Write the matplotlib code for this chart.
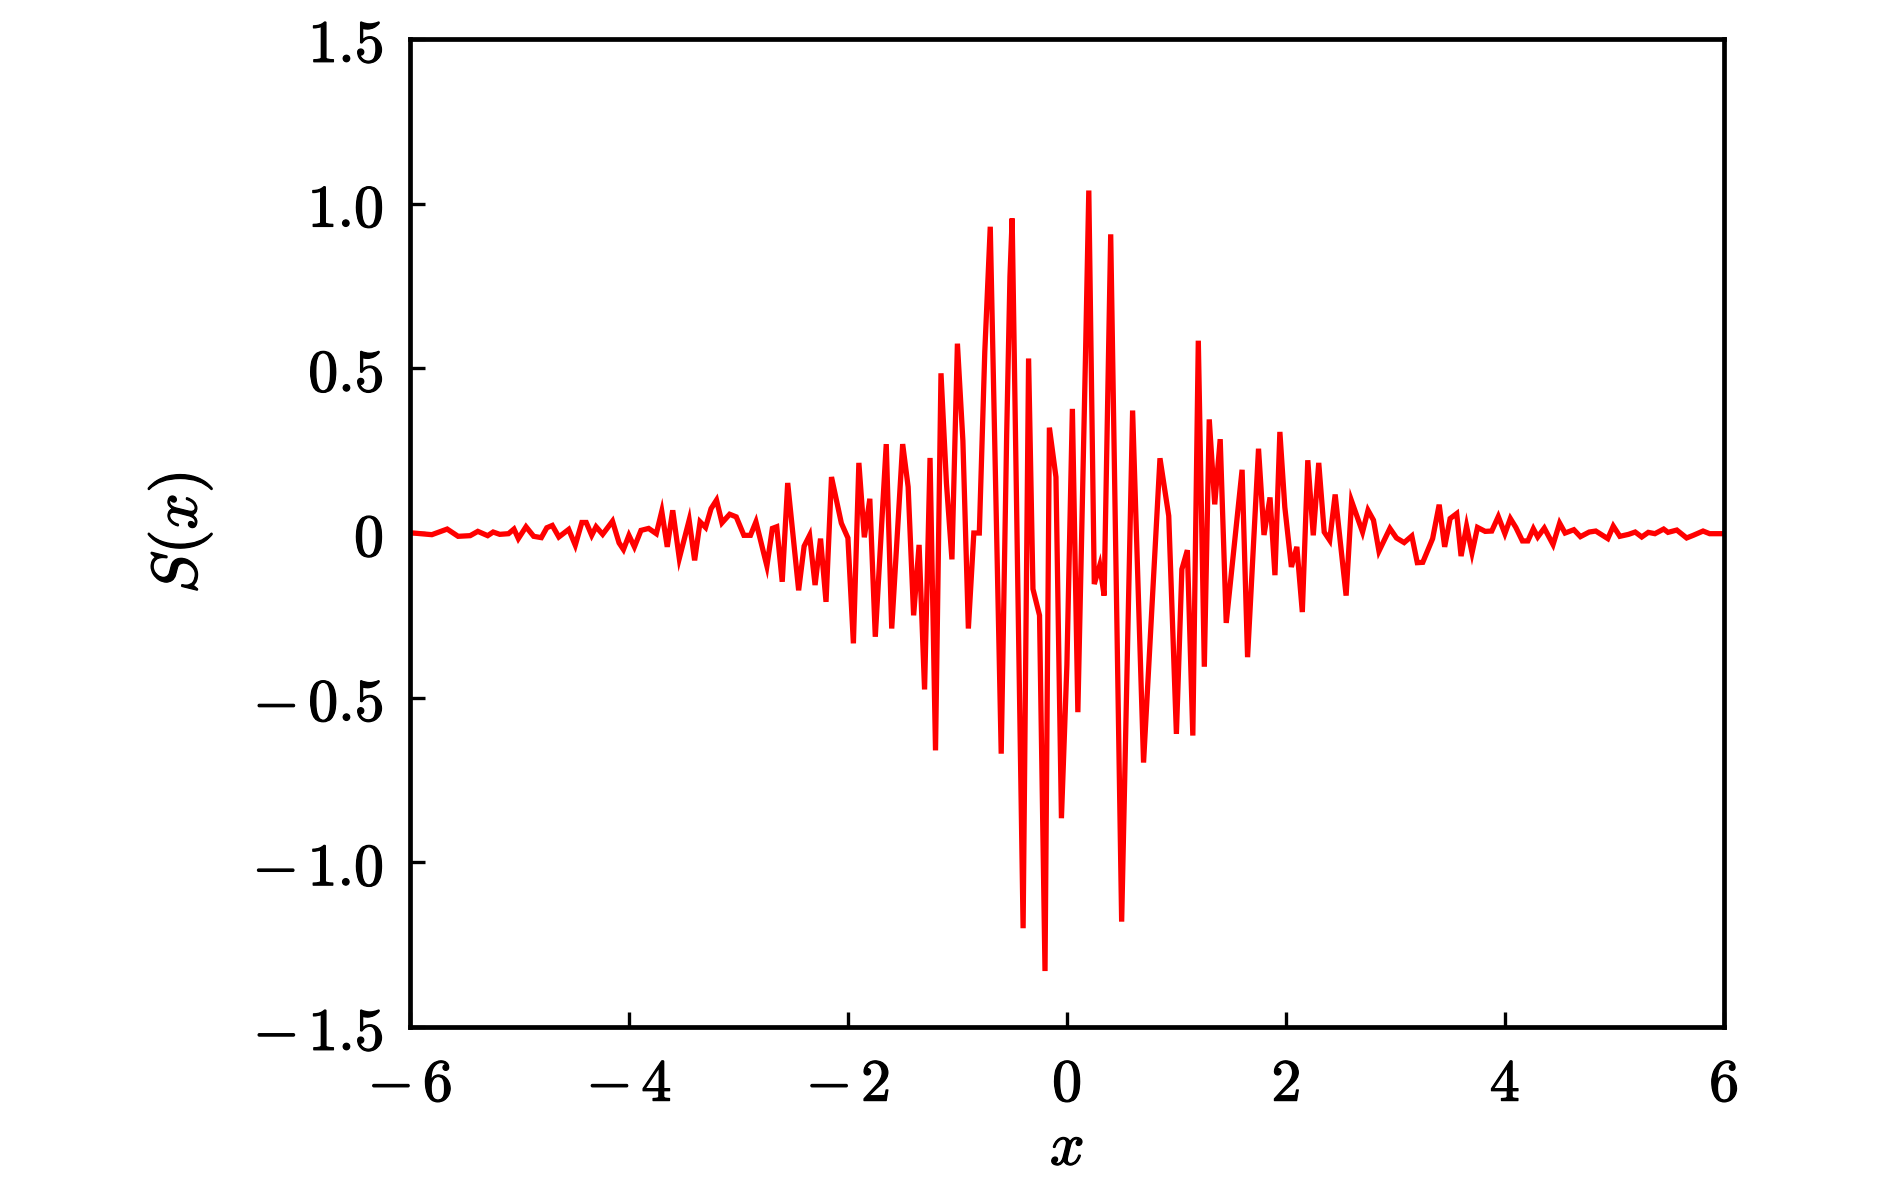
import matplotlib
matplotlib.use("Agg")
import matplotlib.pyplot as plt
import matplotlib.patheffects as pe

# ---- data (vertices of the curve) ----
x_vals = [
    -6.00, -5.97, -5.80, -5.66, -5.56, -5.45, -5.38, -5.29, -5.24, -5.18,
    -5.10, -5.05, -5.01, -4.94, -4.87, -4.80, -4.75, -4.70, -4.64, -4.55,
    -4.49, -4.43, -4.39, -4.34, -4.30, -4.24, -4.15, -4.09, -4.05, -4.00,
    -3.95, -3.89, -3.82, -3.75, -3.70, -3.65, -3.60, -3.54, -3.45, -3.40,
    -3.35, -3.30, -3.25, -3.20, -3.15, -3.08, -3.02, -2.95, -2.89, -2.84,
    -2.74, -2.69, -2.65, -2.60, -2.55, -2.45, -2.40, -2.35, -2.30, -2.25,
    -2.20, -2.15, -2.06, -2.00, -1.95, -1.90, -1.85, -1.80, -1.75, -1.65,
    -1.60, -1.50, -1.45, -1.40, -1.35, -1.30, -1.25, -1.20, -1.15, -1.10,
    -1.05, -1.00, -0.95, -0.90, -0.85, -0.80, -0.75, -0.70, -0.65, -0.60,
    -0.55, -0.52, -0.50, -0.40, -0.35, -0.31, -0.25, -0.20, -0.16, -0.10,
    -0.05, 0.00, 0.05, 0.10, 0.17, 0.20, 0.25, 0.30, 0.34, 0.40,
    0.50, 0.60, 0.70, 0.85, 0.93, 1.00, 1.05, 1.10, 1.15, 1.20,
    1.255, 1.30, 1.35, 1.40, 1.455, 1.60, 1.65, 1.75, 1.80, 1.855,
    1.90, 1.945, 1.99, 2.05, 2.10, 2.15, 2.20, 2.25, 2.30, 2.35,
    2.40, 2.45, 2.55, 2.60, 2.70, 2.75, 2.80, 2.85, 2.95, 3.01,
    3.08, 3.15, 3.20, 3.25, 3.34, 3.40, 3.45, 3.50, 3.56, 3.60,
    3.65, 3.70, 3.75, 3.82, 3.88, 3.94, 4.00, 4.05, 4.10, 4.16,
    4.21, 4.26, 4.30, 4.36, 4.44, 4.50, 4.55, 4.63, 4.69, 4.77,
    4.83, 4.94, 4.99, 5.05, 5.13, 5.19, 5.25, 5.31, 5.37, 5.45,
    5.49, 5.57, 5.66, 5.72, 5.81, 5.87, 6.00,
]
s_vals = [
    0.000, 0.000, -0.005, 0.012, -0.010, -0.008, 0.005, -0.008, 0.003, -0.004,
    -0.002, 0.012, -0.017, 0.019, -0.010, -0.014, 0.016, 0.023, -0.012, 0.011,
    -0.037, 0.032, 0.032, -0.007, 0.019, -0.004, 0.036, -0.030, -0.050, -0.007,
    -0.042, 0.008, 0.014, -0.002, 0.066, -0.042, 0.069, -0.077, 0.039, -0.083,
    0.034, 0.017, 0.074, 0.100, 0.031, 0.057, 0.049, -0.007, -0.007, 0.034,
    -0.100, 0.014, 0.019, -0.148, 0.152, -0.174, -0.040, -0.007, -0.158, -0.017,
    -0.209, 0.170, 0.030, -0.015, -0.335, 0.213, -0.013, 0.104, -0.315, 0.270,
    -0.290, 0.270, 0.140, -0.250, -0.036, -0.475, 0.228, -0.660, 0.485, 0.150,
    -0.080, 0.575, 0.280, -0.290, 0.000, 0.000, 0.550, 0.930, 0.130, -0.670,
    0.300, 0.780, 0.955, -1.200, 0.530, -0.170, -0.250, -1.330, 0.320, 0.170,
    -0.866, -0.400, 0.377, -0.544, 0.540, 1.040, -0.155, -0.098, -0.190, 0.907,
    -1.180, 0.372, -0.697, 0.227, 0.052, -0.610, -0.110, -0.052, -0.615, 0.584,
    -0.406, 0.345, 0.087, 0.285, -0.273, 0.192, -0.377, 0.256, -0.006, 0.108,
    -0.128, 0.307, 0.079, -0.103, -0.042, -0.240, 0.221, -0.007, 0.213, 0.003,
    -0.022, 0.117, -0.190, 0.097, 0.003, 0.069, 0.039, -0.055, 0.014, -0.015,
    -0.029, -0.009, -0.090, -0.089, -0.017, 0.086, -0.042, 0.044, 0.059, -0.070,
    0.021, -0.060, 0.017, 0.005, 0.006, 0.050, -0.002, 0.044, 0.017, -0.024,
    -0.024, 0.013, -0.012, 0.015, -0.035, 0.030, 0.000, 0.010, -0.011, 0.003,
    0.006, -0.017, 0.021, -0.010, -0.004, 0.003, -0.012, 0.002, -0.002, 0.012,
    0.002, 0.009, -0.015, -0.007, 0.006, -0.002, -0.002,
]

x_ticks = [-6, -4, -2, 0, 2, 4, 6]
x_tick_labels = [r"$-\,6$", r"$-\,4$", r"$-\,2$", r"$0$", r"$2$", r"$4$", r"$6$"]
y_ticks = [-1.5, -1.0, -0.5, 0.0, 0.5, 1.0, 1.5]
y_tick_labels = [r"$-\,1.5$", r"$-\,1.0$", r"$-\,0.5$", r"$0$", r"$0.5$", r"$1.0$", r"$1.5$"]

plt.rcParams["mathtext.fontset"] = "cm"
plt.rcParams["font.family"] = ["DejaVu Serif"]

fig = plt.figure(figsize=(18.9, 11.82), dpi=100)
ax = fig.add_axes([0.2169, 0.1311, 0.6952, 0.8359])

ax.plot(x_vals, s_vals, color="#ff0000", linewidth=3.8, solid_joinstyle="miter")

ax.set_xlim(-6, 6)
ax.set_ylim(-1.5, 1.5)
ax.set_xticks(x_ticks)
ax.set_xticklabels(x_tick_labels)
ax.set_yticks(y_ticks)
ax.set_yticklabels(y_tick_labels)

ax.tick_params(axis="both", direction="in", length=11, width=2.4,
               labelsize=43, top=False, right=False)
ax.tick_params(axis="y", pad=19)
ax.tick_params(axis="x", pad=20)
for sp in ax.spines.values():
    sp.set_linewidth(3.4)

stroke = [pe.withStroke(linewidth=0.9, foreground="black")]
for lab in ax.get_xticklabels() + ax.get_yticklabels():
    lab.set_path_effects(stroke)

ax.set_xlabel(r"$x$", fontsize=44, path_effects=stroke)
ax.set_ylabel(r"$S(x)$", fontsize=46, path_effects=stroke)
ax.xaxis.set_label_coords(0.5, -0.092)
ax.yaxis.set_label_coords(-0.149, 0.5)

fig.savefig("out.png", dpi=100)
